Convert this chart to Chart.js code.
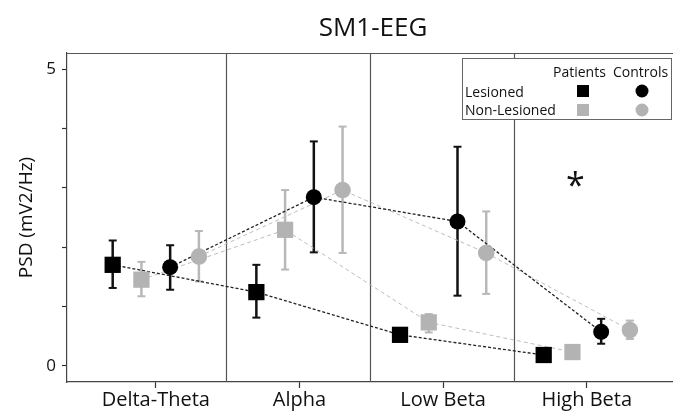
<!DOCTYPE html>
<html>
<head>
<meta charset="utf-8">
<script src="https://cdn.jsdelivr.net/npm/chart.js@4.4.0/dist/chart.umd.min.js"></script>
<style>
  html, body { margin: 0; background: #fff; }
  #wrap { width: 673px; height: 412px; }
</style>
</head>
<body>
<div id="wrap"><canvas id="myChart"></canvas></div>
<script>
// frequency bands on the x axis
const categories = ['Delta-Theta', 'Alpha', 'Low Beta', 'High Beta'];
const yTicks = [0, 1, 2, 3, 4, 5];
const yTickLabels = ['0', '', '', '', '', '5'];

// PSD means and error bar ends (null = no bar visible)
const lesionedPatients     = [1.70, 1.24, 0.52, 0.18];
const lesionedPatientsLo   = [1.31, 0.81, null, null];
const lesionedPatientsHi   = [2.11, 1.70, null, null];

const nonLesPatients       = [1.45, 2.29, 0.73, 0.23];
const nonLesPatientsLo     = [1.17, 1.62, 0.56, null];
const nonLesPatientsHi     = [1.75, 2.96, 0.87, null];

const lesionedControls     = [1.66, 2.84, 2.43, 0.57];
const lesionedControlsLo   = [1.28, 1.91, 1.18, 0.37];
const lesionedControlsHi   = [2.03, 3.78, 3.69, 0.79];

const nonLesControls       = [1.84, 2.96, 1.90, 0.60];
const nonLesControlsLo     = [1.42, 1.90, 1.21, 0.45];
const nonLesControlsHi     = [2.27, 4.03, 2.60, 0.76];

// significance marker
const starBand = 'High Beta';
const starValue = 3.18;

const FONT = "'Open Sans', sans-serif";
const BLACK = '#000';
const GREY = '#b3b3b3';

// series -> offset inside each band, style
const series = [
  { vals: lesionedPatients, lo: lesionedPatientsLo, hi: lesionedPatientsHi, off: -0.3, color: BLACK, line: '#222', shape: 'rect', r: 11.5, dash: [3, 2], lw: 1.3 },
  { vals: nonLesPatients, lo: nonLesPatientsLo, hi: nonLesPatientsHi, off: -0.1, color: GREY, line: '#bdbdbd', shape: 'rect', r: 11.5, dash: [4, 3], lw: 1 },
  { vals: lesionedControls, lo: lesionedControlsLo, hi: lesionedControlsHi, off: 0.1, color: BLACK, line: '#222', shape: 'circle', r: 8, dash: [3, 2], lw: 1.3 },
  { vals: nonLesControls, lo: nonLesControlsLo, hi: nonLesControlsHi, off: 0.3, color: GREY, line: '#bdbdbd', shape: 'circle', r: 8.3, dash: [4, 3], lw: 1 }
];

function pts(s) {
  return s.vals.map((v, i) => ({ x: i + 1 + s.off, y: v }));
}

const datasets = [];
series.forEach(s => {
  datasets.push({ data: pts(s), showLine: true, borderColor: s.line, borderWidth: s.lw, borderDash: s.dash,
    pointRadius: 0, pointHoverRadius: 0, order: 3 });
});
// markers on top of all lines, black ones last
[1, 3, 0, 2].forEach(k => {
  const s = series[k];
  datasets.push({ data: pts(s), showLine: false, pointStyle: s.shape, pointRadius: s.r, pointHoverRadius: s.r,
    backgroundColor: s.color, borderColor: s.color, borderWidth: 0, order: (k % 2 === 0) ? 1 : 2 });
});

function seg(ctx, x1, y1, x2, y2) {
  ctx.beginPath(); ctx.moveTo(x1, y1); ctx.lineTo(x2, y2); ctx.stroke();
}

const extras = {
  id: 'extras',
  beforeDatasetsDraw(chart) {
    const { ctx, chartArea: a, scales: { x, y } } = chart;
    ctx.save();
    // band separators and top frame
    ctx.strokeStyle = '#555';
    ctx.lineWidth = 1.2;
    for (let i = 1; i < categories.length; i++) {
      const px = Math.round(x.getPixelForValue(i + 0.49)) + 0.5;
      seg(ctx, px, a.top, px, a.bottom);
    }
    seg(ctx, a.left, a.top + 0.5, a.right, a.top + 0.5);
    // error bars
    series.forEach(s => {
      ctx.strokeStyle = s.color === BLACK ? '#111' : '#b8b8b8';
      ctx.lineWidth = 2.5;
      s.vals.forEach((v, i) => {
        if (s.lo[i] == null || s.hi[i] == null) return;
        const px = x.getPixelForValue(i + 1 + s.off);
        const y1 = y.getPixelForValue(s.lo[i]);
        const y2 = y.getPixelForValue(s.hi[i]);
        seg(ctx, px, y1, px, y2);
        ctx.lineWidth = 2;
        seg(ctx, px - 4, y1, px + 4, y1);
        seg(ctx, px - 4, y2, px + 4, y2);
        ctx.lineWidth = 2.5;
      });
    });
    ctx.restore();
  },
  afterDraw(chart) {
    const { ctx, scales: { x, y } } = chart;
    ctx.save();
    // title
    ctx.fillStyle = '#111';
    ctx.font = '26px ' + FONT;
    ctx.textAlign = 'center';
    ctx.textBaseline = 'alphabetic';
    ctx.fillText('SM1-EEG', 373, 36);
    // asterisk
    const sx = x.getPixelForValue(categories.indexOf(starBand) + 1 - 0.08);
    const sy = y.getPixelForValue(starValue);
    ctx.font = '34px ' + FONT;
    ctx.fillText('*', sx, sy + 20);
    // legend box
    ctx.fillStyle = '#fff';
    ctx.fillRect(462, 58.5, 210, 61);
    ctx.strokeStyle = '#666';
    ctx.lineWidth = 1;
    ctx.strokeRect(462.5, 58.5, 209, 61);
    ctx.fillStyle = '#111';
    ctx.font = '14px ' + FONT;
    ctx.textAlign = 'left';
    ctx.fillText('Patients', 553, 77);
    ctx.fillText('Controls', 613, 77);
    ctx.fillText('Lesioned', 465, 97);
    ctx.fillText('Non-Lesioned', 465, 115);
    ctx.fillStyle = BLACK;
    ctx.fillRect(577, 85, 12, 12);
    ctx.beginPath(); ctx.arc(642, 91, 6.5, 0, Math.PI * 2); ctx.fill();
    ctx.fillStyle = GREY;
    ctx.fillRect(577, 104, 12, 12);
    ctx.beginPath(); ctx.arc(642, 110, 6.5, 0, Math.PI * 2); ctx.fill();
    ctx.restore();
  }
};

const ctx = document.getElementById('myChart');
const myChart = new Chart(ctx, {
  type: 'scatter',
  data: { datasets: datasets },
  plugins: [extras],
  options: {
    responsive: true,
    maintainAspectRatio: false,
    animation: false,
    layout: { autoPadding: false, padding: { top: 53, right: 0, left: 0, bottom: 0 } },
    plugins: { legend: { display: false }, tooltip: { enabled: false }, title: { display: false } },
    scales: {
      x: {
        type: 'linear',
        min: 0.382,
        max: 4.6,
        afterBuildTicks: s => { s.ticks = categories.map((c, i) => ({ value: i + 1 })); },
        afterFit: s => { s.height = 30; },
        ticks: {
          callback: (v, i) => categories[i],
          font: { family: FONT, size: 20 },
          color: '#111',
          padding: 0,
          maxRotation: 0,
          autoSkip: false
        },
        grid: { drawOnChartArea: false, tickLength: 6, color: '#333', tickWidth: 1.2 },
        border: { color: '#444', width: 1.2 }
      },
      y: {
        min: -0.275,
        max: 5.27,
        afterBuildTicks: s => { s.ticks = yTicks.map(v => ({ value: v })); },
        afterFit: s => { s.width = 67; },
        ticks: {
          callback: (v, i) => yTickLabels[i],
          font: { family: FONT, size: 17 },
          color: '#111',
          padding: 6
        },
        grid: { drawOnChartArea: false, tickLength: 5, color: '#333', tickWidth: 1.2 },
        border: { color: '#444', width: 1.2 },
        title: {
          display: true,
          text: 'PSD (mV2/Hz)',
          font: { family: FONT, size: 19 },
          color: '#111',
          padding: { top: 15, bottom: 0 }
        }
      }
    }
  }
});
</script>
</body>
</html>
